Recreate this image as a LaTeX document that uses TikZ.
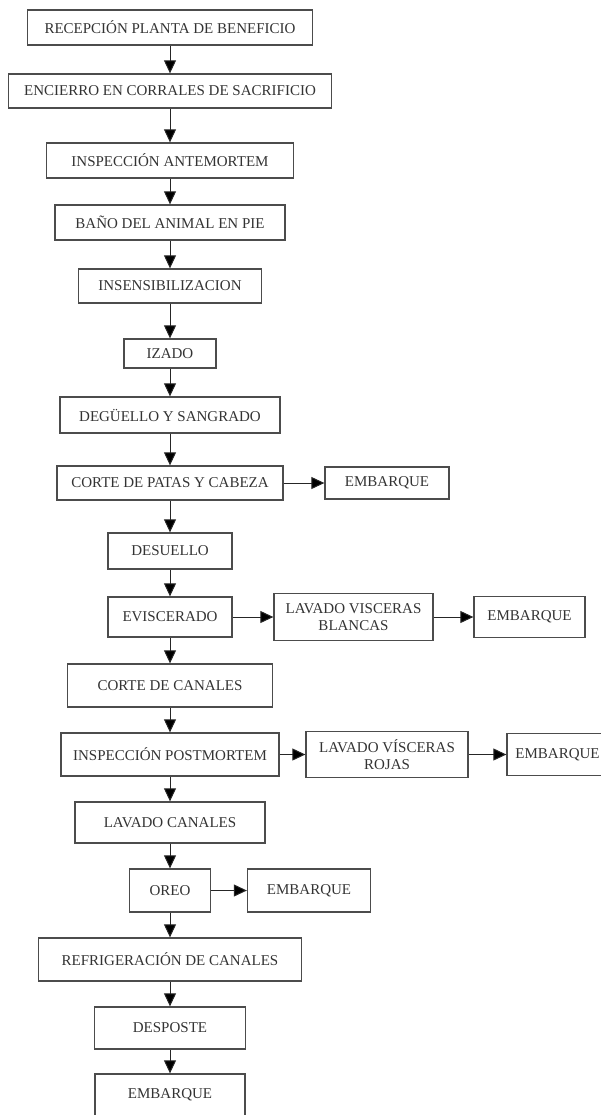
\documentclass[tikz,border=0pt]{standalone}
\usepackage{fontspec}
\setmainfont{Liberation Serif}
\usetikzlibrary{positioning, arrows.meta}
\tikzset{
->, % every edge gets a head
>={Triangle[width=12pt, length=13pt]}, % solid black heads
node distance=68pt, % centre to centre along the main column
box/.style={draw=black!70, line width=1.3pt, text=black!80, font=\fontsize{15}{17.5}\selectfont, align=center, inner sep=2pt, minimum height=35pt}, % one step of the process
flow/.style={line width=1pt, draw=black!85}, % the connecting lines
}

\begin{document}
\begin{tikzpicture}[x=1pt, y=-1pt]
                \useasboundingbox (0,0) rectangle (600,1115);
                % main column
                \node[box, minimum width=285pt] (recepcion) at (170,27.5) {RECEPCIÓN PLANTA DE BENEFICIO};
                \node[box, below of=recepcion, node distance=63.5pt, minimum width=323pt, minimum height=34pt] (encierro) {ENCIERRO EN CORRALES DE SACRIFICIO};
                \node[box, below of=encierro, node distance=69.5pt, minimum width=247pt] (antemortem) {INSPECCIÓN ANTEMORTEM};
                \node[box, below of=antemortem, node distance=62pt, minimum width=230pt] (bano) {BAÑO DEL ANIMAL EN PIE};
                \node[box, below of=bano, node distance=63.5pt, minimum width=183pt, minimum height=34pt] (insens) {INSENSIBILIZACION};
                \node[box, below of=insens, node distance=67.5pt, minimum width=92pt, minimum height=29pt] (izado) {IZADO};
                \node[box, below of=izado, node distance=61.5pt, minimum width=220pt, minimum height=36pt] (deguello) {DEGÜELLO Y SANGRADO};
                \node[box, below of=deguello, minimum width=226pt, minimum height=34pt] (patas) {CORTE DE PATAS Y CABEZA};
                \node[box, below of=patas, minimum width=124pt, minimum height=36pt] (desuello) {DESUELLO};
                \node[box, below of=desuello, node distance=66pt, minimum width=124pt, minimum height=40pt] (eviscerado) {EVISCERADO};
                \node[box, below of=eviscerado, node distance=68.5pt, minimum width=205pt, minimum height=43pt] (cortecan) {CORTE DE CANALES};
                \node[box, below of=cortecan, node distance=69pt, minimum width=218pt, minimum height=43pt] (postmortem) {INSPECCIÓN POSTMORTEM};
                \node[box, below of=postmortem, minimum width=190pt, minimum height=41pt] (lavadocan) {LAVADO CANALES};
                \node[box, below of=lavadocan, minimum width=81pt, minimum height=43pt] (oreo) {OREO};
                \node[box, below of=oreo, node distance=69pt, minimum width=263pt, minimum height=43pt] (refrig) {REFRIGERACIÓN DE CANALES};
                \node[box, below of=refrig, node distance=68.5pt, minimum width=151pt, minimum height=42pt] (desposte) {DESPOSTE};
                \node[box, below of=desposte, node distance=67pt, minimum width=150pt, minimum height=42pt] (embfinal) {EMBARQUE};
                % side branches
                \node[box, right of=patas, node distance=217pt, minimum width=124pt, minimum height=32pt] (embpatas) {EMBARQUE};
                \node[box, right of=eviscerado, node distance=183.5pt, minimum width=159pt, minimum height=47pt] (blancas) {LAVADO VISCERAS\\BLANCAS};
                \node[box, right of=blancas, node distance=176pt, minimum width=111pt, minimum height=41pt] (embblancas) {EMBARQUE};
                \node[box, right of=postmortem, node distance=217pt, minimum width=162pt, minimum height=46pt] (rojas) {LAVADO VÍSCERAS\\ROJAS};
                \node[box, right of=rojas, node distance=170.5pt, minimum width=101pt, minimum height=42pt] (embrojas) {EMBARQUE};
                \node[box, right of=oreo, node distance=139pt, minimum width=123pt, minimum height=43pt] (emboreo) {EMBARQUE};
                \draw[flow]
                    (recepcion) edge (encierro)
                    (encierro) edge (antemortem)
                    (antemortem) edge (bano)
                    (bano) edge (insens)
                    (insens) edge (izado)
                    (izado) edge (deguello)
                    (deguello) edge (patas)
                    (patas) edge (desuello)
                    (desuello) edge (eviscerado)
                    (eviscerado) edge (cortecan)
                    (cortecan) edge (postmortem)
                    (postmortem) edge (lavadocan)
                    (lavadocan) edge (oreo)
                    (oreo) edge (refrig)
                    (refrig) edge (desposte)
                    (desposte) edge (embfinal)
                    (patas) edge (embpatas)
                    (eviscerado) edge (blancas)
                    (blancas) edge (embblancas)
                    (postmortem) edge (rojas)
                    (rojas) edge (embrojas)
                    (oreo) edge (emboreo)
                    ;
                \end{tikzpicture}
\end{document}
